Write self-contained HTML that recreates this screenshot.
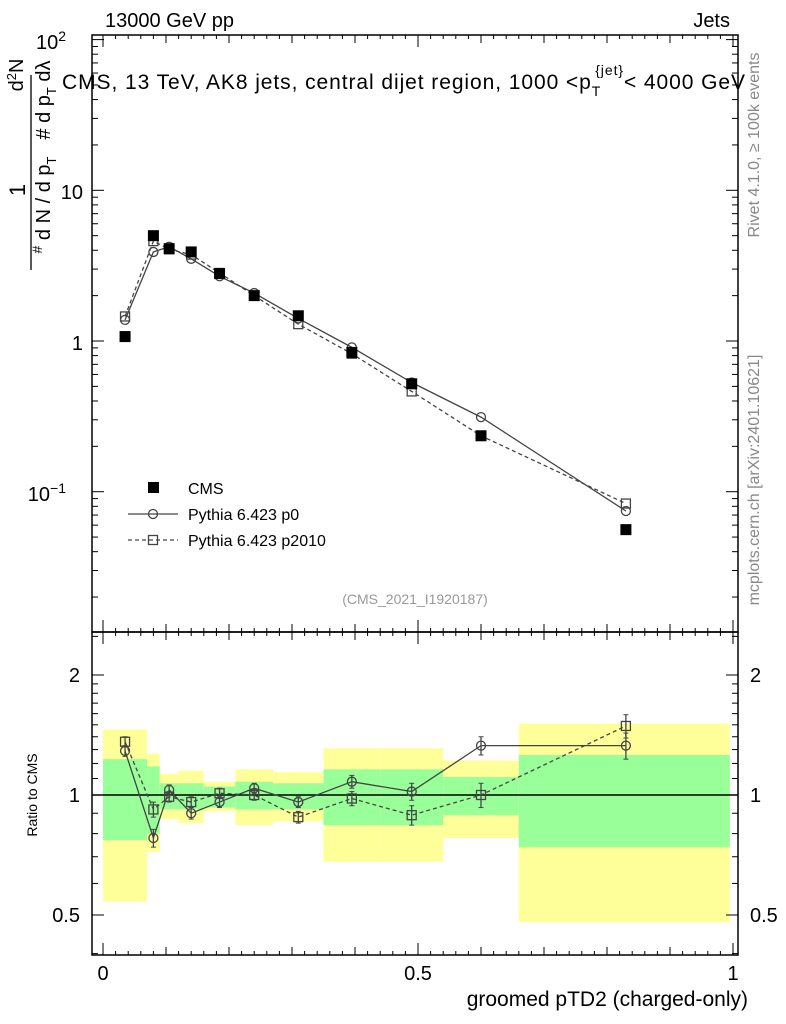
<!DOCTYPE html>
<html><head><meta charset="utf-8"><style>
body{margin:0;background:#fff}
svg{display:block;font-family:"Liberation Sans",sans-serif}
</style></head><body>
<svg id="c" width="786" height="1024" xmlns="http://www.w3.org/2000/svg"></svg>
<script>
const xCenters=[0.035,0.08,0.105,0.14,0.185,0.24,0.31,0.395,0.49,0.6,0.83];
const binEdges=[0,0.07,0.09,0.12,0.16,0.21,0.27,0.35,0.44,0.54,0.66,0.995];
const cmsVals=[1.07,5.0,4.1,3.9,2.8,2.0,1.47,0.84,0.52,0.235,0.056];
const ratioP0=[1.29,0.78,1.03,0.9,0.96,1.04,0.96,1.08,1.02,1.33,1.33];
const ratioP2010=[1.36,0.92,0.99,0.96,1.01,1.0,0.88,0.98,0.89,1.0,1.49];
const ratioErr=[0.04,0.04,0.03,0.03,0.03,0.03,0.03,0.04,0.05,0.07,0.1];
const bandYellowHi=[1.46,1.27,1.13,1.15,1.08,1.16,1.14,1.31,1.31,1.22,1.51];
const bandYellowLo=[0.54,0.72,0.87,0.85,0.91,0.84,0.86,0.68,0.68,0.78,0.48];
const bandGreenHi=[1.23,1.18,1.07,1.07,1.05,1.08,1.07,1.16,1.16,1.11,1.26];
const bandGreenLo=[0.77,0.8,0.92,0.92,0.93,0.92,0.92,0.84,0.84,0.89,0.74];

const NS="http://www.w3.org/2000/svg", svg=document.getElementById('c');
function mk(t,a,p){const e=document.createElementNS(NS,t);for(const k in a)e.setAttribute(k,a[k]);(p||svg).appendChild(e);return e;}
const L=92,R=738,T=35,MB=632,RB=955;
const X=v=>103+v*630;
const Y=v=>341-Math.log10(v)*150.7;
const RY=v=>795-Math.log10(v)*398.6;

const bands=mk('g',{});


for(let i=0;i<xCenters.length;i++){
  const x0=X(binEdges[i]),x1=X(binEdges[i+1]);
  const y=mk('rect',{x:x0,y:RY(bandYellowHi[i]),width:x1-x0,height:RY(bandYellowLo[i])-RY(bandYellowHi[i]),fill:'#ffff99'},bands);
  
  
  const g=mk('rect',{x:x0,y:RY(bandGreenHi[i]),width:x1-x0,height:RY(bandGreenLo[i])-RY(bandGreenHi[i]),fill:'#99ff99'},bands);
  
  
}
mk('line',{x1:L,x2:R,y1:RY(1),y2:RY(1),stroke:'#000','stroke-width':1.5});

mk('rect',{x:L,y:T,width:R-L,height:MB-T,fill:'none',stroke:'#000','stroke-width':1.5});
mk('rect',{x:L,y:MB,width:R-L,height:RB-MB,fill:'none',stroke:'#000','stroke-width':1.5});

for(let k=0;k<=50;k++){const v=k*0.02,x=X(v);const len=(k%5==0)?(k%25==0?12:8):4;
  [[T,1],[MB,-1],[MB,1],[RB,-1]].forEach(([y0,d])=>mk('line',{x1:x,x2:x,y1:y0,y2:y0+d*len,stroke:'#000'}));}
[[0,'0'],[0.5,'0.5'],[1,'1']].forEach(([v,s])=>{const t=mk('text',{x:X(v),y:980,'font-size':20,'text-anchor':'middle'});t.textContent=s;});
for(let d=-2;d<=2;d++)for(let m=1;m<10;m++){const v=m*Math.pow(10,d),y=Y(v);if(y<T||y>MB)continue;const len=m==1?12:6;
  mk('line',{x1:L,x2:L+len,y1:y,y2:y,stroke:'#000'});mk('line',{x1:R,x2:R-len,y1:y,y2:y,stroke:'#000'});}
function lab(x,y,s,sup){const t=mk('text',{x:x,y:y,'font-size':20,'text-anchor':'end'});t.textContent=s;if(sup){const u=mk('tspan',{dy:-8,'font-size':14},t);u.textContent=sup;}return t;}
lab(66,49,'10','2');lab(83,199,'10');lab(83,350,'1');lab(66,501,'10','−1');
[0.4,0.5,0.6,0.7,0.8,0.9,1,1.1,1.2,1.3,1.4,1.5,1.6,1.7,1.8,1.9,2,2.5].forEach(v=>{const y=RY(v);if(y<MB||y>RB)return;const len=(v==0.5||v==1||v==2)?12:6;
  mk('line',{x1:L,x2:L+len,y1:y,y2:y,stroke:'#000'});mk('line',{x1:R,x2:R-len,y1:y,y2:y,stroke:'#000'});});
[[2,'2'],[1,'1'],[0.5,'0.5']].forEach(([v,s])=>{let t=mk('text',{x:80,y:RY(v)+7,'font-size':20,'text-anchor':'end'});t.textContent=s;t=mk('text',{x:750,y:RY(v)+7,'font-size':20});t.textContent=s;});

function series(vals,ry,name,dash,marker,fn){
  const g=mk('g',{});
  const pts=vals.map((v,i)=>[X(xCenters[i]),ry(v)]);
  mk('polyline',{points:pts.map(p=>p.join(',')).join(' '),fill:'none',stroke:'#444','stroke-width':1.3,'stroke-dasharray':dash||'none'},g);
  pts.forEach((p,i)=>{if(fn)fn(g,p,i);marker(g,p[0],p[1]);});
}
const circ=(g,x,y)=>mk('circle',{cx:x,cy:y,r:4.5,fill:'none',stroke:'#444','stroke-width':1.3},g);
const sq=(g,x,y)=>mk('rect',{x:x-4.5,y:y-4.5,width:9,height:9,fill:'none',stroke:'#444','stroke-width':1.3},g);
const p0=cmsVals.map((v,i)=>v*ratioP0[i]), p2=cmsVals.map((v,i)=>v*ratioP2010[i]);
series(p0,Y,'pythia-p0-main','',circ);
series(p2,Y,'pythia-p2010-main','4,3',sq);
const cg=mk('g',{});
cmsVals.forEach((v,i)=>mk('rect',{x:X(xCenters[i])-5.5,y:Y(v)-5.5,width:11,height:11,fill:'#000'},cg));
const eb=(vals)=>(g,p,i)=>{const v=vals[i];mk('line',{x1:p[0],x2:p[0],y1:RY(v+ratioErr[i]),y2:RY(v-ratioErr[i]),stroke:'#444','stroke-width':1.3},g);
  [v+ratioErr[i],v-ratioErr[i]].forEach(w=>mk('line',{x1:p[0]-2.5,x2:p[0]+2.5,y1:RY(w),y2:RY(w),stroke:'#444'},g));};
series(ratioP0,RY,'pythia-p0-ratio','',circ,eb(ratioP0));
series(ratioP2010,RY,'pythia-p2010-ratio','4,3',sq,eb(ratioP2010));

function txt(x,y,s,sz,extra,name){const t=mk('text',Object.assign({x:x,y:y,'font-size':sz},extra||{}));t.innerHTML=s;return t;}
txt(105,27,'13000 GeV pp',20,{},'energy-label');
txt(730,27,'Jets',20,{'text-anchor':'end'},'process-label');
txt(62,89,'CMS, 13 TeV, AK8 jets, central dijet region, 1000 &lt;p<tspan font-size="14" dy="7">T</tspan><tspan font-size="14" dy="-21" dx="-6">{jet}</tspan><tspan dy="14">&lt; 4000 GeV</tspan>',21,{textLength:683},'plot-title');
txt(415,604,'(CMS_2021_I1920187)',14,{'text-anchor':'middle',fill:'#999'},'analysis-id');
txt(0,0,'Rivet 4.1.0, ≥ 100k events',16,{fill:'#888','text-anchor':'middle',transform:'translate(759,145) rotate(-90)'},'rivet-version');
txt(0,0,'mcplots.cern.ch [arXiv:2401.10621]',16,{fill:'#888','text-anchor':'middle',transform:'translate(759,480) rotate(-90)'},'mcplots-credit');
txt(748,1006,'groomed pTD2 (charged-only)',21,{'text-anchor':'end'},'x-axis-title');
txt(0,0,'Ratio to CMS',14,{'text-anchor':'middle',transform:'translate(37,795) rotate(-90)'},'ratio-axis-title');
txt(0,0,'<tspan font-size="14" dy="-8">#</tspan><tspan dy="8"> d N / d p</tspan><tspan font-size="13" dy="6">T</tspan><tspan dy="-6"> </tspan>',20,{'text-anchor':'middle',transform:'translate(50,205) rotate(-90)'},'y-axis-title-denominator');
txt(0,0,'1',22,{'text-anchor':'middle',transform:'translate(25,190) rotate(-90)'},'y-axis-title-one');
mk('line',{x1:31,x2:31,y1:75,y2:270,stroke:'#000','stroke-width':1.3});
txt(0,0,'#   d p<tspan font-size="13" dy="6">T</tspan><tspan dy="-6"> dλ</tspan>',20,{'text-anchor':'middle',transform:'translate(50,100) rotate(-90)'},'y-axis-title-num');
txt(0,0,'d<tspan font-size="13" dy="-7">2</tspan><tspan dy="7">N</tspan>',20,{'text-anchor':'middle',transform:'translate(23,75) rotate(-90)'},'y-axis-title-d2n');
const lg=mk('g',{});
mk('rect',{x:148,y:482,width:11,height:11,fill:'#000'},lg);
mk('line',{x1:128,x2:178,y1:514,y2:514,stroke:'#444','stroke-width':1.3},lg);circ(lg,153,514);
mk('line',{x1:128,x2:178,y1:540,y2:540,stroke:'#444','stroke-width':1.3,'stroke-dasharray':'4,3'},lg);sq(lg,153,540);
[['CMS',494],['Pythia 6.423 p0',520],['Pythia 6.423 p2010',546]].forEach(([s,y])=>{const t=mk('text',{x:188,y:y,'font-size':16},lg);t.textContent=s;});
</script>
</body></html>
